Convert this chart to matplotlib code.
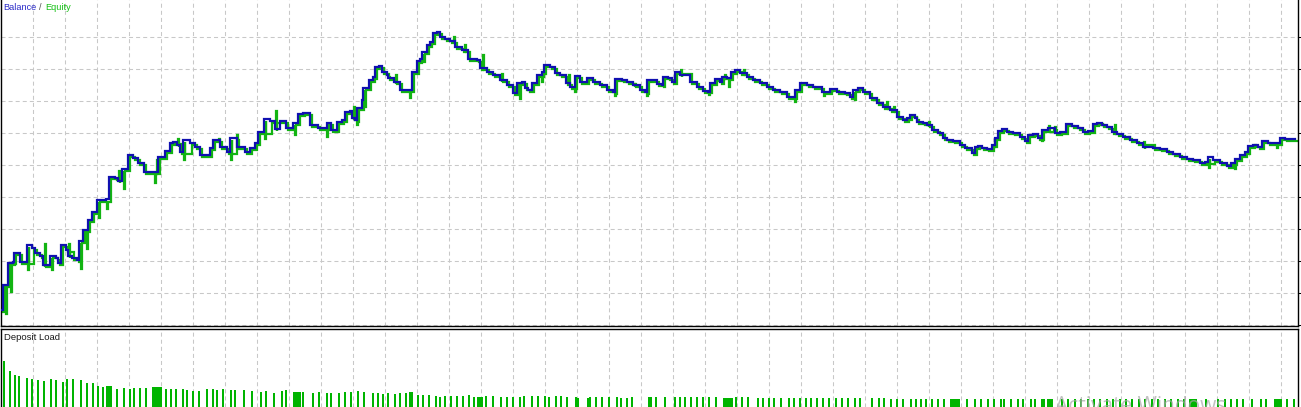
import numpy as np
import matplotlib
matplotlib.use("Agg")
import matplotlib.pyplot as plt
from matplotlib.transforms import ScaledTranslation

# ---------------- data (x = time position, values in chart units) ----------------
balance_x = [1, 3, 8, 13, 14, 19, 20, 25, 27, 32, 35, 40, 43, 48, 50, 56, 58, 61, 66, 68,
             72, 77, 79, 83, 88, 92, 97, 106, 109, 115, 118, 122, 128, 133, 138, 144, 156, 158, 165, 170,
             173, 177, 180, 183, 190, 195, 200, 207, 210, 213, 220, 227, 230, 237, 245, 250, 255, 258, 264, 270,
             275, 280, 286, 293, 298, 303, 310, 318, 322,
             327, 331, 335, 337, 342, 345, 350, 352, 355, 357, 362, 363, 369, 373, 375, 379, 382, 387, 388, 394,
             400, 410, 412, 417, 420, 422, 427, 430, 433, 437, 440, 445, 450, 455, 462, 468, 477, 480, 487, 493,
             500, 507, 513, 517, 522, 525, 528, 532, 537, 542, 544, 550, 555, 560, 566, 570, 575, 580, 587, 593,
             600, 607, 613, 615, 622, 627, 633, 640, 645,
             647, 653, 657, 662, 663, 668, 672, 675, 680, 690, 697, 703, 708, 710, 715, 720, 722, 727, 731, 735,
             740, 747, 753, 760, 767, 773, 780, 787, 792, 795, 800, 807, 813, 822, 827, 830, 837, 845, 850, 853,
             858, 863, 870, 877, 883, 890, 897, 903, 907, 910, 915, 917, 923, 927, 932, 938, 943, 947, 953, 960,
             965, 972, 975, 978, 982, 987, 992, 995, 998, 1002, 1007, 1013, 1020, 1025, 1028, 1033, 1038, 1042, 1048, 1052,
             1055, 1060, 1066, 1072, 1078, 1083, 1088, 1093, 1097, 1102, 1107, 1112, 1117, 1123, 1130, 1137, 1143, 1153, 1160, 1167,
             1173, 1180, 1187, 1193, 1200, 1205, 1208, 1213, 1220, 1227, 1231, 1235, 1240, 1245, 1248, 1253, 1258, 1262, 1268, 1275,
             1280, 1285, 1295]
balance = [16, 41, 63, 64, 73, 73, 64, 64, 81, 78, 73, 70, 61, 61, 70, 68, 63, 81, 76, 70,
           68, 66, 85, 96, 106, 114, 126, 127, 149, 148, 145, 157, 171, 168, 163, 154, 154, 169, 175, 183,
           184, 181, 174, 186, 183, 179, 171, 171, 178, 186, 179, 174, 188, 179, 174, 178, 183, 194, 207, 205,
           197, 205, 198, 203, 212, 213, 201, 198, 198,
           203, 196, 196, 204, 206, 214, 215, 208, 206, 218, 226, 238, 246, 249, 259, 260, 254, 251, 248, 244,
           236, 236, 254, 265, 267, 274, 281, 284, 293, 294, 289, 287, 285, 279, 276, 267, 266, 258, 254, 251,
           246, 241, 233, 243, 244, 238, 236, 243, 251, 254, 261, 259, 253, 251, 243, 239, 250, 244, 248, 244,
           241, 236, 234, 247, 246, 244, 241, 236, 234,
           246, 246, 242, 241, 249, 248, 244, 254, 251, 244, 239, 235, 234, 243, 247, 244, 249, 248, 254, 256,
           253, 249, 246, 243, 239, 236, 234, 229, 229, 236, 243, 241, 239, 234, 234, 237, 234, 233, 229, 236,
           238, 234, 228, 223, 219, 216, 209, 206, 208, 211, 208, 204, 203, 201, 196, 193, 188, 186, 185, 181,
           178, 173, 179, 180, 178, 177, 181, 188, 195, 197, 194, 193, 189, 185, 191, 192, 188, 196, 198, 198,
           193, 194, 202, 200, 198, 194, 195, 202, 203, 201, 199, 194, 192, 189, 186, 183, 179, 178, 177, 174,
           172, 169, 167, 166, 163, 164, 169, 166, 163, 160, 163, 167, 171, 174, 180, 181, 179, 185, 183, 183,
           188, 187, 187]

# equity excursions away from balance (floating profit / loss)
equity_x = [4, 9, 26, 43, 50, 67, 79, 85, 97, 105, 117, 122, 153, 155, 176, 182, 217, 229, 235, 263,
            274, 293, 325, 352, 355, 363, 394, 408, 422, 452, 463, 481, 500, 518, 540, 567, 573, 613, 633, 645,
            679, 707, 723, 727, 742, 793, 798, 822, 853, 885, 892, 927, 973, 993, 1040, 1047, 1053, 1100, 1113, 1127,
            1142, 1207, 1233, 1253, 1275]
equity = [14, 36, 58, 84, 58, 84, 59, 79, 110, 119, 157, 139, 145, 168, 189, 168, 189, 168, 193, 189,
          217, 193, 191, 221, 203, 221, 253, 230, 266, 291, 283, 273, 254, 229, 246, 253, 236, 232, 244, 232,
          258, 233, 253, 241, 258, 226, 238, 232, 228, 226, 221, 206, 173, 184, 187, 202, 201, 204, 203, 191,
          186, 160, 159, 183, 180]

load_x = [4, 10, 15, 19, 27, 32, 38, 44, 51, 56, 63, 67, 73, 81, 87, 93, 98, 103, 107, 109,
          111, 117, 124, 130, 134, 140, 146, 153, 155, 157, 159, 161, 166, 171, 176, 183, 187, 193, 199, 207,
          213, 217, 223, 231, 235, 244, 252, 261, 266, 274, 282, 286, 294, 296, 298, 300, 303, 313, 319, 327,
          331, 339, 345, 351, 358, 364, 373, 378, 383, 388, 395, 400, 406, 410, 412, 418, 423, 429, 436, 440,
          445, 451, 457, 463, 469, 474, 478, 480, 482, 486, 493, 501, 507, 513, 520, 524, 532, 538, 545, 549,
          556, 561, 567, 576, 578, 588, 590, 596, 602, 609, 617, 621, 627, 632, 649,
          651, 656, 665, 675, 680, 685, 691, 697, 703, 709, 716, 724, 726, 728, 730, 732, 736, 742, 748, 758,
          763, 769, 774, 781, 789, 794, 800, 806, 811, 817, 823, 829, 836, 842, 848, 855, 860, 872, 879, 884,
          891, 897, 903, 911, 916, 921, 926, 932, 938, 944, 951, 953, 955, 957, 959, 967, 975, 981, 988, 994,
          1001, 1004, 1011, 1018, 1023, 1031, 1035, 1042, 1044, 1048, 1050, 1052, 1062, 1068, 1075, 1081, 1088, 1094, 1100, 1107,
          1113, 1120, 1126, 1132, 1139, 1145, 1152, 1158, 1165, 1171, 1178, 1184, 1190, 1192, 1194, 1196, 1206, 1218, 1225, 1231,
          1237, 1243, 1252, 1261, 1266, 1275, 1277, 1279, 1281, 1287, 1294]
deposit_load = [46, 36, 32, 31, 29, 28, 27, 26, 28, 27, 25, 28, 28, 27, 24, 24, 21, 20, 21, 21,
                21, 18, 19, 18, 19, 19, 19, 20, 20, 20, 20, 20, 18, 18, 18, 18, 17, 16, 16, 18,
                18, 17, 18, 17, 17, 17, 16, 15, 16, 14, 16, 17, 15, 15, 15, 15, 15, 14, 15, 14,
                14, 14, 15, 15, 16, 15, 14, 14, 13, 14, 13, 14, 14, 15, 15, 12, 12, 12, 11, 10,
                11, 11, 11, 11, 12, 10, 10, 10, 10, 11, 11, 10, 10, 10, 10, 11, 11, 11, 11, 10,
                11, 11, 10, 10, 9, 9, 10, 10, 10, 10, 10, 9, 9, 10, 10,
                10, 10, 10, 10, 10, 10, 10, 10, 10, 10, 10, 9, 9, 9, 9, 9, 10, 10, 10, 9,
                9, 9, 9, 9, 9, 9, 9, 9, 9, 9, 9, 9, 9, 9, 9, 9, 9, 9, 9, 9,
                8, 8, 8, 8, 8, 8, 8, 8, 8, 8, 8, 8, 8, 8, 8, 8, 8, 8, 8, 8,
                8, 8, 8, 8, 8, 8, 8, 8, 8, 8, 8, 8, 8, 8, 8, 8, 8, 8, 8, 8,
                8, 8, 8, 8, 8, 8, 8, 8, 8, 8, 8, 8, 8, 8, 8, 8, 8, 8, 8, 8,
                8, 8, 8, 8, 8, 8, 8, 8, 8, 8, 8]

# ---------------- figure ----------------
W, H, DPI = 1301, 407, 100
plt.rcParams['lines.scale_dashes'] = False
fig = plt.figure(figsize=(W / DPI, H / DPI), dpi=DPI, facecolor='white')

GRID = dict(color='#c8c8c8', linewidth=0.75, linestyle=(0, (2.9, 2.2)))
BLUE = '#1010b0'
GREEN = '#12b412'

# top panel: pixel x 1..1298, pixel y 0..326
ax = fig.add_axes([1 / W, (H - 326) / H, 1297 / W, 326 / H])
ax.set_xlim(1, 1298)
ax.set_ylim(0, 326)
ax.spines['top'].set_visible(False)
for s in ['left', 'right', 'bottom']:
    ax.spines[s].set_color('black')
    ax.spines[s].set_linewidth(1.0)
ax.set_xticks(np.arange(33, 1290, 32))
ax.set_yticks(np.arange(289, 0, -32))
ax.grid(True, **GRID)
ax.tick_params(axis='x', length=0, labelbottom=False)
ax.yaxis.tick_right()
ax.tick_params(axis='y', direction='out', length=2.2, width=0.75, color='black',
               labelright=False, labelleft=False)

# equity: balance path with excursions merged in
bx = np.array(balance_x)
bv = np.array(balance)
pts = list(zip(balance_x, balance))
for sx, sv in zip(equity_x, equity):
    i = max(np.searchsorted(bx, sx, side='right') - 1, 0)
    pts.append((sx, sv))
    pts.append((sx + 1, bv[i]))
pts.sort(key=lambda p: p[0])
ex = [p[0] for p in pts]
ev = [p[1] for p in pts]
off = ScaledTranslation(1.8 / DPI, -1.5 / DPI, fig.dpi_scale_trans)
ax.plot(ex, ev, drawstyle='steps-post', color=GREEN, linewidth=1.6,
        transform=ax.transData + off, zorder=2, solid_joinstyle='miter')
ax.plot(balance_x, balance, drawstyle='steps-post', color=BLUE, linewidth=1.6,
        zorder=3, solid_joinstyle='miter')

# bottom panel: pixel y 329..407
ax2 = fig.add_axes([1 / W, 0, 1297 / W, 78 / H])
ax2.set_xlim(1, 1298)
ax2.set_ylim(0, 78)
ax2.spines['bottom'].set_visible(False)
for s in ['left', 'right', 'top']:
    ax2.spines[s].set_color('black')
    ax2.spines[s].set_linewidth(1.0)
ax2.set_xticks(np.arange(33, 1290, 32))
ax2.set_yticks([])
ax2.xaxis.grid(True, **GRID)
ax2.tick_params(axis='x', length=0, labelbottom=False)
ax2.bar(load_x, deposit_load, width=2.0, color='#00b400', linewidth=0, zorder=3)

# texts
FONT = ['Liberation Sans', 'DejaVu Sans']
fig.text(3 / W, 1 - 10.5 / H, 'Balance', color='#2a2ac8', fontsize=6.6, family=FONT, va='baseline')
fig.text(39 / W, 1 - 10.5 / H, '/', color='#505050', fontsize=6.6, family=FONT, va='baseline')
fig.text(45.5 / W, 1 - 10.5 / H, 'Equity', color='#14c014', fontsize=6.6, family=FONT, va='baseline')
fig.text(4 / W, 1 - 339.5 / H, 'Deposit Load', color='#1a1a1a', fontsize=6.8, family=FONT, va='baseline')

# screen watermark visible in the capture (only its upper part is inside the image)
fig.text(1055 / W, -5 / H, 'Activate Windows', color='#a8a8a8', alpha=0.7,
         fontsize=15, family=['Open Sans', 'DejaVu Sans'], va='baseline', zorder=10)

fig.savefig('out.png', dpi=DPI, facecolor='white')
